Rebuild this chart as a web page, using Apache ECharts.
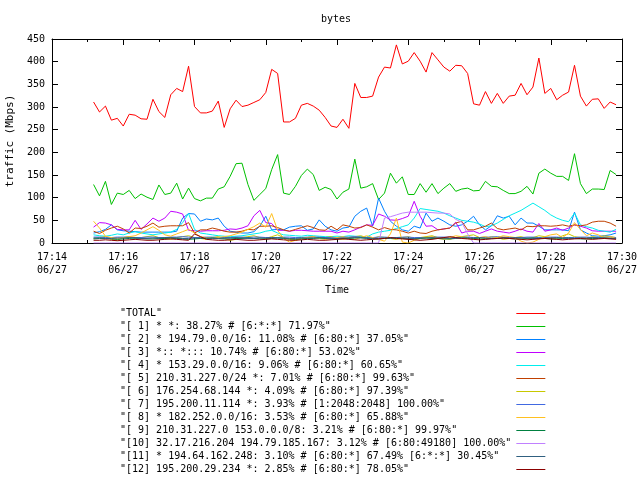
<!DOCTYPE html>
<html>
<head>
<meta charset="utf-8">
<script src="https://cdn.jsdelivr.net/npm/echarts@6/dist/echarts.min.js"></script>
<style>html,body{margin:0;padding:0;background:#fff}#c{width:640px;height:480px}</style>
</head>
<body>
<div id="c"></div>
<script>
// x axis: seconds since 17:14:00; samples every 10 s from 17:15:10
const tickLabels = ['17:14','17:16','17:18','17:20','17:22','17:24','17:26','17:28','17:30'];
const dateLabel = '06/27';
const startSec = 70;
const stepSec = 10;

const seriesNames = [
  '"TOTAL"',
  '"[ 1] * *: 38.27% # [6:*:*] 71.97%"',
  '"[ 2] * 194.79.0.0/16: 11.08% # [6:80:*] 37.05%"',
  '"[ 3] *:: *::: 10.74% # [6:80:*] 53.02%"',
  '"[ 4] * 153.29.0.0/16: 9.06% # [6:80:*] 60.65%"',
  '"[ 5] 210.31.227.0/24 *: 7.01% # [6:80:*] 99.63%"',
  '"[ 6] 176.254.68.144 *: 4.09% # [6:80:*] 97.39%"',
  '"[ 7] 195.200.11.114 *: 3.93% # [1:2048:2048] 100.00%"',
  '"[ 8] * 182.252.0.0/16: 3.53% # [6:80:*] 65.88%"',
  '"[ 9] 210.31.227.0 153.0.0.0/8: 3.21% # [6:80:*] 99.97%"',
  '"[10] 32.17.216.204 194.79.185.167: 3.12% # [6:80:49180] 100.00%"',
  '"[11] * 194.64.162.248: 3.10% # [6:80:*] 67.49% [6:*:*] 30.45%"',
  '"[12] 195.200.29.234 *: 2.85% # [6:80:*] 78.05%"'
];

const total = [311,289,302,271,275,258,284,282,274,273,
 317,290,277,327,341,334,390,301,287,287,
 291,313,255,296,315,301,304,310,316,332,
 383,374,267,267,275,304,308,302,293,277,
 258,255,273,253,352,321,321,324,366,388,
 386,437,395,401,420,401,377,420,404,388,
 379,392,391,374,307,304,334,308,330,308,
 324,326,352,327,344,408,330,341,316,326,
 333,392,324,302,317,318,297,311,305];

const s1 = [129,104,136,85,110,107,116,98,108,101,
 96,128,107,110,132,97,121,98,93,99,
 99,119,124,147,175,176,129,94,107,120,
 162,195,110,107,125,149,163,151,116,
 123,118,97,112,119,185,121,124,131,96,
 110,154,132,146,107,107,131,112,131,109,
 121,131,114,119,121,115,116,136,125,124,
 116,109,109,114,125,108,154,163,154,147,
 147,138,197,131,109,119,119,118,160,151];

const s2 = [22,25,30,40,29,27,26,25,24,24,
 24,24,24,24,26,55,65,64,48,53,
 51,55,37,26,24,22,22,25,37,59,
 29,30,29,35,37,38,28,31,
 51,37,29,26,33,35,59,70,77,37,
 99,70,48,37,29,26,37,33,66,48,
 55,48,40,37,40,48,59,40,29,38,
 60,55,59,40,55,44,44,37,29,29,
 29,29,27,68,29,22,16,15,16,18,
 22];

const s3 = [35,45,44,40,30,29,29,50,30,42,
 55,48,55,70,68,64,28,27,26,27,
 27,27,28,31,30,33,38,60,72,45,
 43,28,28,26,28,28,27,26,
 26,26,26,22,26,24,29,35,40,39,
 64,59,51,50,54,59,92,59,37,38,
 29,31,33,46,22,26,26,21,26,31,
 26,24,22,26,31,26,24,43,26,29,
 33,28,33,40,37,33,27,26,26,26,
 26];

const s4 = [18,16,15,17,20,18,22,25,22,20,
 18,20,22,24,30,45,65,30,22,20,
 18,16,15,14,15,16,18,20,22,26,
 28,22,18,17,16,15,17,16,15,14,
 14,15,14,16,15,14,13,20,24,26,
 28,32,36,40,
 55,76,74,72,70,66,60,55,50,48,
 46,42,36,38,44,52,60,66,72,80,
 88,80,72,62,55,50,47,66,40,36,
 33,28,26,24,30];

const s5 = [26,21,28,33,37,31,22,33,32,37,
 44,35,37,38,38,38,45,22,29,29,
 33,30,26,24,24,26,30,29,37,37,
 38,34,29,26,30,34,38,34,29,28,
 37,29,40,37,33,34,40,35,29,34,
 30,29,26,22,26,22,21,26,29,31,
 33,44,48,29,29,33,37,44,32,29,
 31,33,29,37,36,38,38,37,38,40,
 37,40,38,40,46,48,48,44,37];

const s6 = [10,12,14,8,6,12,14,10,12,14,
 16,12,10,8,12,14,16,12,10,8,
 12,14,10,6,8,12,14,16,12,10,
 14,18,12,8,6,10,12,14,10,12,
 14,10,8,12,14,16,12,10,14,12,
 10,8,12,14,10,12,14,16,12,10,
 8,12,14,16,18,12,10,14,12,8,
 10,12,14,10,12,16,14,12,10,16,
 20,14,12,10,14,12,16,14,12];

const s7 = [13,13,12,12,13,13,13,12,12,13,
 13,12,12,13,13,14,13,12,12,13,
 13,12,12,12,13,13,12,13,13,12,
 12,12,13,13,12,12,13,13,13,12,
 12,12,13,13,14,13,12,12,13,13,
 12,12,13,13,12,12,12,13,13,13,
 12,12,13,13,12,12,13,13,14,13,
 12,12,12,13,13,12,12,13,13,12,
 12,12,13,13,12,12,13,13,12];

const s8 = [48,33,15,12,10,12,14,16,22,29,
 36,28,18,15,20,25,30,22,14,12,
 10,12,14,16,20,24,30,36,44,35,
 65,28,10,2,6,10,12,14,10,8,
 10,12,14,10,8,12,16,12,8,4,
 20,55,2,0,6,10,12,14,10,8,
 12,16,14,10,8,12,14,10,12,16,
 14,12,4,0,2,8,14,18,20,12,
 22,45,30,16,22,18,12,14,10];

const s9 = [9,10,10,9,8,9,10,11,10,9,
 9,10,10,11,10,9,8,9,10,10,
 11,10,9,9,10,10,11,10,9,9,
 10,11,10,9,8,9,10,10,11,10,
 9,9,10,10,11,12,10,9,9,10,
 10,11,10,9,9,10,11,10,10,9,
 9,10,11,11,10,9,9,10,10,11,
 10,9,9,10,11,10,10,9,9,10,
 11,10,9,9,10,10,11,10,10];

const s10 = [0,0,0,0,0,0,0,0,0,0,
 0,0,0,0,0,0,0,0,0,0,
 0,0,0,0,0,0,0,0,0,0,
 0,0,0,0,0,0,0,0,0,0,
 0,0,0,0,0,0,0,0,0,55,
 58,62,66,68,68,68,68,67,66,66,
 64,52,46,20,0,0,0,0,0,0,
 0,0,0,0,0,0,0,0,0,0,
 0,0,0,0,0,0,0,0,0];

const s11 = [11,11,10,10,11,11,12,11,10,10,
 11,11,12,12,11,10,10,11,11,11,
 10,10,11,11,12,11,10,10,11,11,
 12,11,11,10,10,11,11,11,12,11,
 10,10,11,11,12,11,11,10,10,11,
 11,12,11,10,10,11,11,12,11,11,
 10,10,11,11,11,12,11,10,10,11,
 11,12,11,11,10,10,11,11,12,11,
 10,10,11,11,12,11,11,10,10];

const s12 = [6,6,7,6,5,6,7,8,7,6,
 6,7,8,9,8,7,6,20,14,8,
 7,6,6,7,8,7,6,6,7,8,
 9,8,7,6,6,7,8,7,6,6,
 7,8,9,8,7,6,7,8,9,10,
 12,10,9,8,7,6,7,8,10,12,
 14,12,10,9,8,7,8,9,10,11,
 10,9,8,7,8,9,10,9,8,7,
 8,9,10,9,8,9,10,9,8];

const allValues = [total,s1,s2,s3,s4,s5,s6,s7,s8,s9,s10,s11,s12];
const colors = ['#ff0000','#00c000','#0080ff','#c000ff','#00eeee','#c04000','#c8c800',
                '#4169e1','#ffc020','#008040','#c080ff','#306080','#8b0000'];

const FONT = 'DejaVu Sans Mono';
const chart = echarts.init(document.getElementById('c'), null, {renderer:'canvas'});

const series = allValues.map((vals, k) => ({
  name: seriesNames[k],
  type: 'line',
  xAxisIndex: 0, yAxisIndex: 0,
  showSymbol: false,
  symbol: 'none',
  animation: false,
  lineStyle: {width: 1, color: colors[k]},
  itemStyle: {color: colors[k]},
  data: vals.map((v, i) => [startSec + stepSec * i, v])
}));

const xCommon = {
  type: 'value', min: 0, max: 960, interval: 120,
  axisLine: {show: true, onZero: false, lineStyle: {color: '#000', width: 1}},
  axisTick: {show: true, inside: true, length: 6, lineStyle: {color: '#000'}},
  minorTick: {show: true, splitNumber: 2, length: 3, lineStyle: {color: '#000'}},
  splitLine: {show: false}
};
const yCommon = {
  type: 'value', min: 0, max: 450, interval: 50,
  axisLine: {show: true, onZero: false, lineStyle: {color: '#000', width: 1}},
  axisTick: {show: true, inside: true, length: 6, lineStyle: {color: '#000'}},
  splitLine: {show: false}
};

chart.setOption({
  animation: false,
  backgroundColor: '#fff',
  title: {
    text: 'bytes', left: 336, top: 14, textAlign: 'center', padding: 0,
    textStyle: {fontFamily: FONT, fontSize: 10, fontWeight: 'normal', color: '#000'}
  },
  grid: {left: 52, right: 18, top: 39, bottom: 237, containLabel: false, outerBoundsMode: 'none'},
  xAxis: [
    Object.assign({}, xCommon, {
      position: 'bottom',
      name: 'Time', nameLocation: 'middle', nameGap: 42,
      nameTextStyle: {fontFamily: FONT, fontSize: 10, color: '#000'},
      axisLabel: {
        show: true, margin: 8, fontFamily: FONT, fontSize: 10, color: '#000', lineHeight: 13,
        formatter: v => tickLabels[Math.round(v / 120)] + '\n' + dateLabel
      }
    }),
    Object.assign({}, xCommon, {position: 'top', axisLabel: {show: false}})
  ],
  yAxis: [
    Object.assign({}, yCommon, {
      position: 'left',
      name: 'traffic (Mbps)', nameLocation: 'middle', nameGap: 31, nameRotate: 90,
      nameTextStyle: {fontFamily: FONT, fontSize: 11, color: '#000'},
      axisLabel: {show: true, margin: 7, fontFamily: FONT, fontSize: 10, color: '#000'}
    }),
    Object.assign({}, yCommon, {position: 'right', axisLabel: {show: false}})
  ],
  legend: {
    orient: 'vertical', left: 120, top: 307, padding: 0, height: 172,
    align: 'right', icon: 'rect', itemWidth: 29, itemHeight: 1, itemGap: 0,
    selectedMode: false,
    textStyle: {fontFamily: FONT, fontSize: 10, lineHeight: 13, color: '#000'},
    formatter: name => name.padEnd(65, ' '),
    data: seriesNames.map((n, k) => ({name: n, itemStyle: {color: colors[k]}}))
  },
  series: series
});
</script>
</body>
</html>
